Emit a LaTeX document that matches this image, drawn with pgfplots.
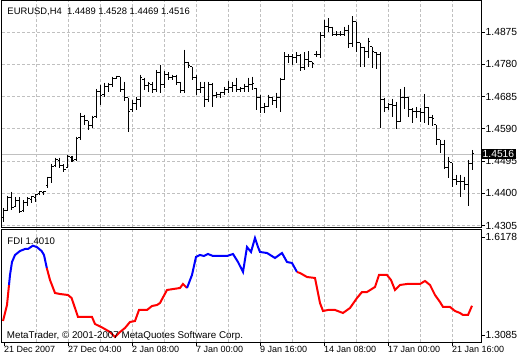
\documentclass[border=0pt]{standalone}
\usepackage{fontspec}
\setmainfont{Liberation Sans}
\usepackage{pgfplots}
\usepackage{pgfplotstable}
\pgfplotsset{compat=1.18}
\definecolor{gridc}{RGB}{192,192,192}
\definecolor{fdired}{RGB}{255,0,0}
\definecolor{fdiblue}{RGB}{0,0,255}
\pgfdeclareplotmark{otick}{\pgfpathmoveto{\pgfpoint{-1.8pt}{0pt}}\pgfpathlineto{\pgfpoint{0pt}{0pt}}\pgfusepathqstroke}
\pgfdeclareplotmark{ctick}{\pgfpathmoveto{\pgfpoint{0pt}{0pt}}\pgfpathlineto{\pgfpoint{1.8pt}{0pt}}\pgfusepathqstroke}
\pgfplotstableread{
i h l o c
0 1.4357 1.4316 1.4328 1.4351
1 1.4393 1.4348 1.4351 1.4387
2 1.4405 1.4351 1.4387 1.4357
3 1.4390 1.4360 1.4360 1.4378
4 1.4390 1.4343 1.4378 1.4348
5 1.4381 1.4346 1.4351 1.4372
6 1.4390 1.4363 1.4372 1.4384
7 1.4393 1.4372 1.4381 1.4390
8 1.4399 1.4375 1.4387 1.4396
9 1.4407 1.4396 1.4399 1.4405
10 1.4407 1.4396 1.4402 1.4405
11 1.4449 1.4416 1.4422 1.4446
12 1.4487 1.4431 1.4446 1.4478
13 1.4505 1.4478 1.4481 1.4499
14 1.4505 1.4475 1.4496 1.4481
15 1.4487 1.4464 1.4481 1.4469
16 1.4514 1.4475 1.4475 1.4508
17 1.4511 1.4493 1.4505 1.4496
18 1.4567 1.4496 1.4499 1.4561
19 1.4638 1.4558 1.4564 1.4626
20 1.4632 1.4602 1.4626 1.4614
21 1.4614 1.4587 1.4614 1.4599
22 1.4629 1.4593 1.4599 1.4623
23 1.4708 1.4623 1.4626 1.4700
24 1.4720 1.4661 1.4700 1.4688
25 1.4726 1.4685 1.4691 1.4714
26 1.4726 1.4700 1.4714 1.4720
27 1.4744 1.4714 1.4720 1.4738
28 1.4747 1.4738 1.4738 1.4744
29 1.4744 1.4700 1.4744 1.4705
30 1.4729 1.4673 1.4705 1.4682
31 1.4682 1.4582 1.4682 1.4641
32 1.4676 1.4641 1.4646 1.4664
33 1.4685 1.4646 1.4664 1.4676
34 1.4750 1.4655 1.4676 1.4741
35 1.4741 1.4705 1.4735 1.4717
36 1.4729 1.4700 1.4717 1.4723
37 1.4729 1.4697 1.4720 1.4705
38 1.4764 1.4700 1.4705 1.4756
39 1.4779 1.4697 1.4756 1.4720
40 1.4759 1.4711 1.4720 1.4750
41 1.4756 1.4735 1.4750 1.4741
42 1.4750 1.4735 1.4741 1.4744
43 1.4750 1.4720 1.4744 1.4726
44 1.4729 1.4697 1.4726 1.4702
45 1.4823 1.4697 1.4702 1.4785
46 1.4788 1.4770 1.4785 1.4776
47 1.4773 1.4735 1.4773 1.4741
48 1.4750 1.4691 1.4741 1.4705
49 1.4729 1.4697 1.4705 1.4711
50 1.4729 1.4655 1.4711 1.4676
51 1.4729 1.4670 1.4676 1.4720
52 1.4726 1.4655 1.4720 1.4688
53 1.4700 1.4682 1.4688 1.4691
54 1.4700 1.4682 1.4691 1.4697
55 1.4714 1.4691 1.4697 1.4705
56 1.4732 1.4697 1.4705 1.4711
57 1.4729 1.4700 1.4711 1.4717
58 1.4741 1.4700 1.4717 1.4705
59 1.4714 1.4700 1.4705 1.4708
60 1.4723 1.4700 1.4708 1.4714
61 1.4741 1.4700 1.4714 1.4720
62 1.4744 1.4705 1.4720 1.4723
63 1.4711 1.4646 1.4708 1.4682
64 1.4691 1.4638 1.4682 1.4652
65 1.4667 1.4638 1.4652 1.4655
66 1.4691 1.4655 1.4655 1.4682
67 1.4685 1.4661 1.4682 1.4673
68 1.4697 1.4652 1.4673 1.4682
69 1.4741 1.4641 1.4682 1.4735
70 1.4815 1.4735 1.4735 1.4803
71 1.4809 1.4785 1.4803 1.4803
72 1.4809 1.4779 1.4803 1.4800
73 1.4815 1.4785 1.4800 1.4806
74 1.4809 1.4759 1.4806 1.4770
75 1.4815 1.4764 1.4770 1.4794
76 1.4818 1.4773 1.4794 1.4788
77 1.4788 1.4770 1.4788 1.4782
78 1.4818 1.4803 1.4809 1.4809
79 1.4874 1.4800 1.4809 1.4865
80 1.4912 1.4859 1.4865 1.4891
81 1.4915 1.4874 1.4891 1.4888
82 1.4891 1.4862 1.4888 1.4868
83 1.4877 1.4862 1.4868 1.4868
84 1.4877 1.4862 1.4868 1.4868
85 1.4891 1.4862 1.4868 1.4879
86 1.4897 1.4829 1.4879 1.4841
87 1.4921 1.4832 1.4841 1.4906
88 1.4906 1.4815 1.4906 1.4844
89 1.4844 1.4773 1.4844 1.4829
90 1.4832 1.4773 1.4829 1.4818
91 1.4859 1.4800 1.4818 1.4847
92 1.4832 1.4770 1.4832 1.4818
93 1.4815 1.4767 1.4815 1.4809
94 1.4815 1.4593 1.4809 1.4676
95 1.4682 1.4641 1.4676 1.4652
96 1.4667 1.4646 1.4652 1.4661
97 1.4679 1.4626 1.4661 1.4658
98 1.4670 1.4590 1.4658 1.4611
99 1.4708 1.4611 1.4611 1.4682
100 1.4714 1.4649 1.4682 1.4682
101 1.4685 1.4626 1.4682 1.4646
102 1.4652 1.4608 1.4646 1.4641
103 1.4655 1.4623 1.4641 1.4641
104 1.4652 1.4611 1.4641 1.4638
105 1.4694 1.4608 1.4638 1.4652
106 1.4655 1.4602 1.4652 1.4623
107 1.4632 1.4599 1.4623 1.4620
108 1.4602 1.4543 1.4602 1.4558
109 1.4558 1.4520 1.4558 1.4543
110 1.4558 1.4472 1.4543 1.4475
111 1.4508 1.4446 1.4475 1.4493
112 1.4490 1.4419 1.4490 1.4440
113 1.4455 1.4425 1.4440 1.4434
114 1.4455 1.4390 1.4434 1.4434
115 1.4449 1.4410 1.4434 1.4425
116 1.4499 1.4363 1.4425 1.4489
117 1.4528 1.4469 1.4489 1.4516
}\bars
\begin{document}
\begin{tikzpicture}
\useasboundingbox (0,0) rectangle (520pt,360pt);
\begin{axis}[
  at={(2pt,133pt)}, anchor=south west, scale only axis,
  width=479pt, height=226.5pt,
  xmin=-0.5, xmax=119.25, ymin=1.4301, ymax=1.4968,
  axis line style={black, line width=1pt},
  xtick={8,16,...,112}, xticklabels={}, xtick style={draw=none},
  ytick={1.4305,1.4400,1.4495,1.4590,1.4685,1.4780,1.4875},
  yticklabels={1.4305,1.4400,1.4495,1.4590,1.4685,1.4780,1.4875},
  ytick pos=right, yticklabel pos=right, tick align=outside,
  major tick length=3.5pt,
  ytick style={black, line width=0.8pt},
  yticklabel style={anchor=west, inner sep=0pt, xshift=1pt, font=\fontsize{10.3}{12}\selectfont},
  grid=major, major grid style={gridc, line width=0.8pt, dash pattern=on 3pt off 2pt},
  clip mode=individual,
]
\addplot[gridc, line width=0.9pt] coordinates {(-0.5,1.4516) (119.25,1.4516)};
\addplot[draw=none, mark=none, error bars/.cd, y dir=minus, y explicit, error mark=none,
  error bar style={draw=black, line width=1pt}]
  table[x=i, y=h, y error minus expr=\thisrow{h}-\thisrow{l}] {\bars};
\addplot[only marks, mark=otick, mark options={black, line width=1pt}] table[x=i, y=o] {\bars};
\addplot[only marks, mark=ctick, mark options={black, line width=1pt}] table[x=i, y=c] {\bars};
\node[fill=black, text=white, anchor=west, inner xsep=1.5pt, inner ysep=1.2pt,
  font=\fontsize{10.3}{12}\selectfont] at (axis cs:119.25,1.4516) {1.4516};
\end{axis}
\begin{axis}[
  at={(2pt,18pt)}, anchor=south west, scale only axis,
  width=479pt, height=112pt,
  xmin=-0.5, xmax=119.25, ymin=1.2863, ymax=1.6409,
  axis line style={black, line width=1pt},
  xtick={16,32,...,112}, minor xtick={8,24,...,104},
  xticklabels={27 Dec 04:00,2 Jan 08:00,7 Jan 00:00,9 Jan 16:00,14 Jan 08:00,17 Jan 00:00,21 Jan 16:00},
  extra x ticks={0}, extra x tick labels={21 Dec 2007}, extra x tick style={grid=none},
  xtick pos=bottom, ytick pos=right, yticklabel pos=right, tick align=outside,
  major tick length=3.5pt, minor tick length=0pt,
  tick style={black, line width=0.8pt},
  xmajorgrids, xminorgrids,
  major grid style={gridc, line width=0.8pt, dash pattern=on 3pt off 2pt},
  minor grid style={gridc, line width=0.8pt, dash pattern=on 3pt off 2pt},
  ytick={1.3085,1.6178}, yticklabels={1.3085,1.6178},
  yticklabel style={anchor=west, inner sep=0pt, xshift=1pt, font=\fontsize{10.3}{12}\selectfont},
  xticklabel style={anchor=north west, inner sep=0pt, yshift=-1pt, font=\fontsize{9}{11}\selectfont},
  clip mode=individual,
]
\addplot[fdired, line width=2pt] coordinates {(-0.25,1.3528) (0.75,1.4035) (1.25,1.4668)};
\addplot[fdiblue, line width=2pt] coordinates {(1.25,1.4668) (1.5,1.4985) (2,1.5396) (2.75,1.5618) (4,1.5744) (5.25,1.5808) (6,1.5808) (7.2,1.5912) (8.2,1.5871) (9.4,1.5744) (10,1.5618) (10.7,1.5206)};
\addplot[fdired, line width=2pt] coordinates {(10.7,1.5206) (11.5,1.4826) (12.75,1.4415) (14,1.4383) (16,1.4351) (16.9,1.4256) (18.5,1.3655) (22,1.3655) (22.75,1.3433) (24.75,1.3307) (26.5,1.3180) (27.75,1.3022) (29,1.3180) (30.25,1.3307) (31.5,1.3497) (32.75,1.3528) (33.75,1.3877) (35.75,1.3877) (37,1.4003) (38.25,1.4035) (39,1.4098) (40.75,1.4510) (44,1.4573) (44.75,1.4700) (45.25,1.4636) (45.75,1.4573)};
\addplot[fdiblue, line width=2pt] coordinates {(45.75,1.4573) (47,1.4985) (48,1.5555) (49,1.5618) (50,1.5586) (51,1.5650) (52.25,1.5586) (55.75,1.5586) (57.25,1.5650) (58.5,1.5396) (59.75,1.5080) (60.75,1.5871) (61.75,1.5713) (62.75,1.6156) (63.5,1.5871) (64,1.5713) (65.75,1.5681) (67.75,1.5523) (69.5,1.5681) (70.75,1.5396) (72,1.5365) (73.25,1.5080)};
\addplot[fdired, line width=2pt] coordinates {(73.25,1.5080) (74,1.5048) (75.75,1.4921) (77.75,1.4890) (79,1.4098) (79.75,1.3845) (81,1.3877) (82.75,1.3877) (84.75,1.3782) (86.5,1.3940) (88.25,1.4256) (89.5,1.4446) (90.75,1.4446) (92.75,1.4605) (93.75,1.4985) (95.75,1.4985) (96.75,1.4826) (97.75,1.4510) (99,1.4668) (100.75,1.4700) (104,1.4700) (105.25,1.4795) (106.5,1.4668) (107.75,1.4351) (109,1.4130) (109.75,1.3972) (111.5,1.3972) (112.75,1.3845) (114,1.3782) (114.75,1.3718) (116,1.3718) (117,1.4010)};
\end{axis}
\node[anchor=base west, inner sep=0pt, font=\fontsize{9.4}{11}\selectfont] at (7.3pt,346pt) {EURUSD,H4\ \ 1.4489 1.4528 1.4469 1.4516};
\node[anchor=base west, inner sep=0pt, font=\fontsize{9.6}{11}\selectfont] at (7.3pt,116pt) {FDI 1.4010};
\node[anchor=base west, inner sep=0pt, font=\fontsize{9.8}{11}\selectfont] at (6.7pt,22pt) {MetaTrader, © 2001-2007 MetaQuotes Software Corp.};
\end{tikzpicture}
\end{document}
